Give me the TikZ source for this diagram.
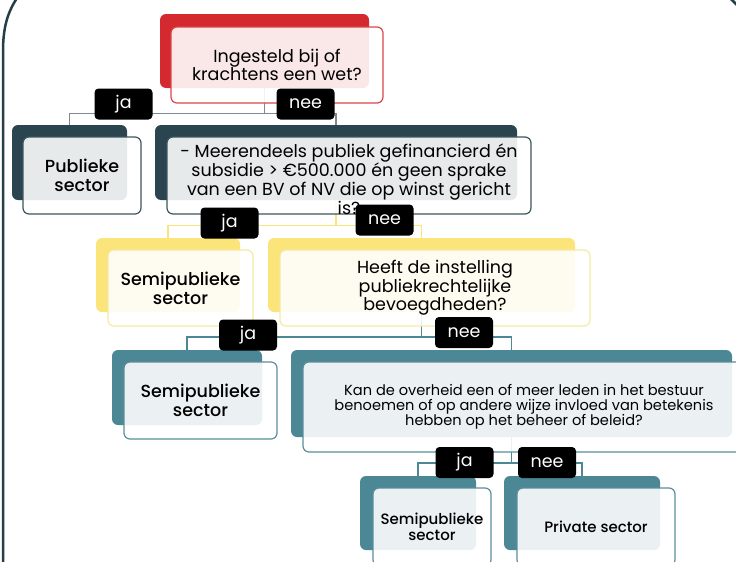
\documentclass[tikz,border=0pt]{standalone}
\usepackage{fontspec}
\setmainfont{Poppins}
\newfontfamily\medfont{Poppins Medium}
\definecolor{cRed}{HTML}{D42A2F}
\definecolor{cRedL}{HTML}{D9464A}
\definecolor{cSlate}{HTML}{2A4550}
\definecolor{cSlateL}{HTML}{3E555E}
\definecolor{cYel}{HTML}{FBE47A}
\definecolor{cYelL}{HTML}{F6E9A2}
\definecolor{cTeal}{HTML}{4C8796}
\definecolor{cTealL}{HTML}{5A8E9B}
\definecolor{cGrayLn}{HTML}{7E8A8E}
\definecolor{cFrame}{HTML}{263E48}
\pgfdeclarelayer{bg}
\pgfsetlayers{bg,main}
\begin{document}
\begin{tikzpicture}[x=1pt,y=-1pt,
  back/.style={fill=#1, rounded corners=6pt, inner sep=0pt, outer sep=0pt},
  front/.style={draw=#1, line width=1.2pt, fill=white, fill opacity=0.89, text opacity=1, rounded corners=6pt, inner sep=0pt, outer sep=0pt, align=center, text=black},
  lab/.style={fill=black, text=white, rounded corners=4pt, minimum width=58pt, minimum height=31pt, inner sep=0pt, font=\fontsize{17.5}{19}\selectfont},
  conn/.style={draw=#1, line width=1.4pt},
  big/.style={font=\fontsize{17.5}{17}\selectfont},
  bigm/.style={font=\medfont\fontsize{17.5}{19}\selectfont},
  small/.style={font=\fontsize{14.6}{15}\selectfont},
  smallm/.style={font=\medfont\fontsize{15}{16}\selectfont}
]
\useasboundingbox (0,0) rectangle (736,562);
% frame
\draw[cFrame, line width=2.5pt] (17,-2) .. controls (8,12) and (3,26) .. (3,52) -- (3,564);
\draw[cFrame, line width=2.5pt] (730,-2) .. controls (733,1) .. (738,6);

% back boxes
\node[back=cRed, minimum width=209pt, minimum height=74pt] (r1b) at (264.5,51) {};
\node[back=cSlate, minimum width=115pt, minimum height=75pt] (pubb) at (69.5,162.5) {};
\node[back=cSlate, minimum width=362pt, minimum height=75pt] (meerb) at (336,162.5) {};
\node[back=cYel, minimum width=144pt, minimum height=74pt] (semiyb) at (168,275) {};
\node[back=cYel, minimum width=307pt, minimum height=74pt] (heeftb) at (421.5,275) {};
\node[back=cTeal, minimum width=150pt, minimum height=75pt] (semitb) at (187,387.5) {};
\node[back=cTeal, minimum width=441pt, minimum height=87pt] (kanb) at (511.5,393.5) {};
\node[back=cTeal, minimum width=116pt, minimum height=74pt] (semisb) at (418,513) {};
\node[back=cTeal, minimum width=156pt, minimum height=74pt] (privb) at (582,513) {};

% front boxes
\node[front=cRedL, minimum width=212pt, minimum height=76pt, big] (r1) at (277,65) {Ingesteld bij of\\krachtens een wet?};
\node[front=cSlateL, minimum width=118pt, minimum height=77pt, bigm] (pub) at (82,175.5) {Publieke\\sector};
\node[front=cSlateL, minimum width=364pt, minimum height=77pt] (meer) at (349,175.5) {};
\node[font=\fontsize{17.5}{19}\selectfont, align=center, inner sep=0pt] (meert) at (349,179) {- Meerendeels publiek gefinancierd én\\subsidie > €500.000 én geen sprake\\van een BV of NV die op winst gericht\\is?};
\node[front=cYelL, minimum width=145pt, minimum height=76pt, bigm] (semiy) at (180.5,288) {Semipublieke\\sector};
\node[front=cYelL, minimum width=310pt, minimum height=76pt, font=\fontsize{17.5}{18.5}\selectfont] (heeft) at (435,288) {Heeft de instelling\\publiekrechtelijke\\bevoegdheden?};
\node[front=cTealL, minimum width=153pt, minimum height=77pt, bigm] (semit) at (200.5,400.5) {Semipublieke\\sector};
\node[front=cTealL, minimum width=442pt, minimum height=90pt, small] (kan) at (524,407) {Kan de overheid een of meer leden in het bestuur\\benoemen of op andere wijze invloed van betekenis\\hebben op het beheer of beleid?};
\node[front=cTealL, minimum width=118pt, minimum height=78pt, smallm] (semis) at (432,527) {Semipublieke\\sector};
\node[front=cTealL, minimum width=158pt, minimum height=78pt, smallm] (priv) at (596,527) {Private sector};

% bus points
\coordinate (j1) at (264.5,113.5);
\coordinate (j2) at (336,225.5);
\coordinate (j3) at (421.5,337);
\coordinate (j4) at (511.5,463);

\begin{pgfonlayer}{bg}
\draw[conn=cGrayLn] (r1b.south) -- (j1);
\draw[conn=cGrayLn] (pubb.north) |- (j1) -| (meerb.north);
\draw[conn=cYel] (meerb.south) -- (j2);
\draw[conn=cYel] (semiyb.north) |- (j2) -| (heeftb.north);
\draw[conn=cTeal] (heeftb.south) -- (j3);
\draw[conn=cTeal] (semitb.north) |- (j3) -| (kanb.north);
\draw[conn=cTeal] (kanb.south) -- (j4);
\draw[conn=cTeal] (semisb.north) |- (j4) -| (privb.north);
\end{pgfonlayer}

% labels
\node[lab] (l1) at (123.5,104) {ja};
\node[lab] (l2) at (305.5,104) {nee};
\node[lab] (l3) at (229.5,223) {ja};
\node[lab] (l4) at (384.5,220) {nee};
\node[lab] (l5) at (248,335) {ja};
\node[lab] (l6) at (464,332.5) {nee};
\node[lab] (l7) at (464.5,462.5) {ja};
\node[lab] (l8) at (547,462.5) {nee};
\end{tikzpicture}
\end{document}
